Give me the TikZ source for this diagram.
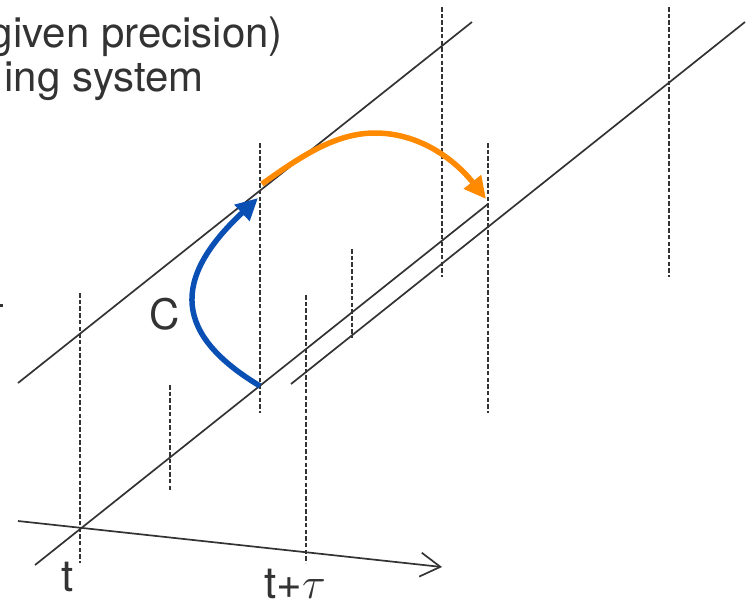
\RequirePackage{fix-cm}
\documentclass[tikz,border=0pt]{standalone}
\usepackage{fontspec}
\setmainfont{TeX Gyre Heros}
\usepackage{tikz}
\usetikzlibrary{arrows.meta}
\usepackage{xcolor}
\definecolor{ink}{HTML}{333333}
\definecolor{cblue}{HTML}{0A50B4}
\definecolor{corange}{HTML}{FF8A00}

\begin{document}
\begin{tikzpicture}[
    x=1pt, y=-1pt,
    line/.style={draw=ink, line width=1.7pt},
    guide/.style={draw=ink, line width=1.7pt, dash pattern=on 4.5pt off 2.2pt},
    label/.style={text=ink, inner sep=0pt, font=\fontsize{42}{44}\selectfont},
    jump/.style={line width=5.5pt, -{Triangle[length=22pt,width=21pt]}}
]
\useasboundingbox (0,0) rectangle (747,606);

% caption lines cut by the page edge
\node[label, anchor=base east] (cap1) at (283,47) {given precision)};
\node[label, anchor=base east] (cap2) at (204,91) {ing system};
\draw[ink, line width=3pt] (0,305.5) -- (3,305.5);

% time slices
\foreach \x/\ya/\yb in {80/293/563, 170/385/490, 260/143/413, 306/295/563,
                        352/249/338, 442/7/277, 488/143/413, 669/7/277}
  \draw[guide] (\x,\ya) -- (\x,\yb);

% parallel trajectories
\coordinate (a1) at (18,383);  \coordinate (a2) at (472,22);
\coordinate (b1) at (35,565);  \coordinate (b2) at (488,204);
\coordinate (c1) at (291,384); \coordinate (c2) at (745,22);
\draw[line] (a1) -- (a2);
\draw[line] (b1) -- (b2);
\draw[line] (c1) -- (c2);

% time axis
\coordinate (ax0) at (18,521);
\coordinate (ax1) at (442,567);
\draw[line, -{Straight Barb[length=20pt,width=24pt]}] (ax0) -- (ax1);

% jumps
\coordinate (p0) at (260,386);
\coordinate (p1) at (258,198);
\coordinate (q0) at (262,184);
\coordinate (qm) at (375,133);
\coordinate (q1) at (486,199);
\draw[jump, cblue] (p0) .. controls (175,335) and (170,280) .. (p1);
\draw[jump, corange] (q0) .. controls (300,157) and (335,133) .. (qm)
                          .. controls (420,133) and (455,160) .. (q1);

\node[label] (C) at (165,314) {C};
\node[label, anchor=base, font=\fontsize{44}{44}\selectfont] (t) at (68,591) {t};
\node[label, anchor=base west, font=\fontsize{44}{44}\selectfont] (ttau) at (264,598) {t+$\tau$};
\end{tikzpicture}
\end{document}
